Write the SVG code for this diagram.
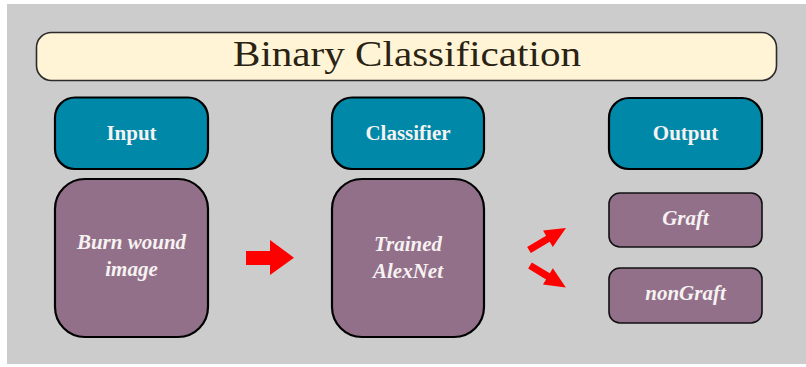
<svg xmlns="http://www.w3.org/2000/svg" width="806" height="367" viewBox="0 0 806 367">
  <defs>
    <style>
      .panel { fill: #cccccc; }
      .title-box { fill: #fff5d6; stroke: #2b2b2b; stroke-width: 1.6; }
      .head { fill: #0088a8; stroke: #000; stroke-width: 2.2; }
      .body { fill: #937089; stroke: #000; stroke-width: 2.2; }
      .small { fill: #937089; stroke: #111; stroke-width: 1.6; }
      .title { font-family: "Liberation Serif", "Times New Roman", serif; font-size: 36px; fill: #2a2212; }
      .hlabel { font-family: "Liberation Serif", "Times New Roman", serif; font-size: 21px; font-weight: bold; fill: #f6f2f2; text-anchor: middle; }
      .blabel { font-family: "Liberation Serif", "Times New Roman", serif; font-size: 21px; font-weight: bold; font-style: italic; fill: #f6f2f2; text-anchor: middle; }
      .arrow { fill: #ff0000; }
    </style>
  </defs>

  <!-- background panel -->
  <rect class="panel" x="7" y="4" width="799" height="360"/>

  <!-- title banner -->
  <g id="title">
    <rect class="title-box" x="36.5" y="32.5" width="740" height="48" rx="15"/>
    <text class="title" x="233" y="66" textLength="348" lengthAdjust="spacingAndGlyphs">Binary Classification</text>
  </g>

  <!-- input column -->
  <g id="input-header">
    <rect class="head" x="55" y="97.5" width="153" height="71.5" rx="20"/>
    <text class="hlabel" x="131.5" y="139.5">Input</text>
  </g>
  <g id="input-body">
    <rect class="body" x="55" y="179" width="153" height="158" rx="30"/>
    <text class="blabel" x="131.5" y="249">Burn wound</text>
    <text class="blabel" x="131.5" y="276">image</text>
  </g>

  <!-- classifier column -->
  <g id="classifier-header">
    <rect class="head" x="332" y="97.5" width="152" height="71.5" rx="20"/>
    <text class="hlabel" x="408" y="140">Classifier</text>
  </g>
  <g id="classifier-body">
    <rect class="body" x="332" y="179" width="152" height="158" rx="30"/>
    <text class="blabel" x="408" y="251">Trained</text>
    <text class="blabel" x="408" y="278">AlexNet</text>
  </g>

  <!-- output column -->
  <g id="output-header">
    <rect class="head" x="609" y="98" width="153" height="71" rx="20"/>
    <text class="hlabel" x="685.5" y="139.5">Output</text>
  </g>
  <g id="graft">
    <rect class="small" x="609" y="193" width="153" height="54" rx="11"/>
    <text class="blabel" x="685.5" y="224.5">Graft</text>
  </g>
  <g id="nongraft">
    <rect class="small" x="609" y="268" width="153" height="55" rx="11"/>
    <text class="blabel" x="685.5" y="299.5">nonGraft</text>
  </g>

  <!-- connectors: block arrows -->
  <g id="connectors">
    <polygon class="arrow" points="246,251 270,251 270,240 294,257.7 270,275 270,265 246,265"/>
    <polygon class="arrow" transform="translate(529,250) rotate(-30.7)" points="0,-3.6 22,-3.6 22,-9.5 43,0 22,9.5 22,3.6 0,3.6"/>
    <polygon class="arrow" transform="translate(530,265.5) rotate(31.4)" points="0,-3.6 21,-3.6 21,-9.5 42,0 21,9.5 21,3.6 0,3.6"/>
  </g>
</svg>
